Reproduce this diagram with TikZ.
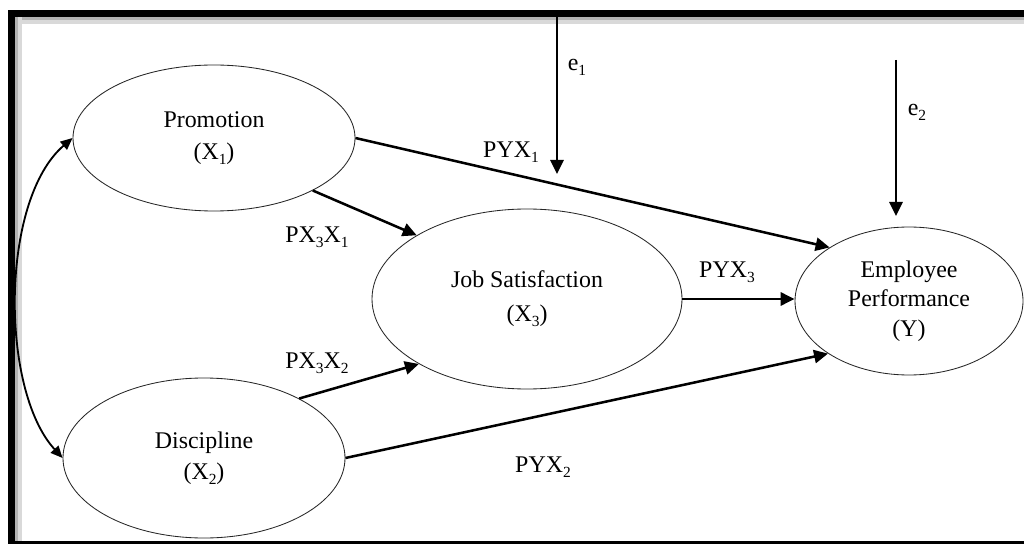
\documentclass[tikz,border=0pt]{standalone}
\usepackage{fontspec}
\setmainfont{Liberation Serif}
\usetikzlibrary{shapes.geometric,arrows.meta}
\newcommand{\lsub}[1]{\raisebox{-0.45ex}{\fontsize{11}{11}\selectfont #1}}
\begin{document}
\begin{tikzpicture}[x=0.25mm,y=-0.25mm,
  latent/.style={ellipse, draw=black!85, line width=0.6pt, fill=white, inner sep=0pt, align=center, font=\fontsize{17}{21}\selectfont},
  conn/.style={line width=1.8pt, -{Triangle[length=3.5mm,width=3.3mm]}},
  dbl/.style={line width=1.3pt, {Triangle[length=3mm,width=2.6mm]}-{Triangle[length=3mm,width=2.6mm]}},
  lab/.style={font=\fontsize{17}{20}\selectfont, inner sep=0pt}]
\useasboundingbox (0,0) rectangle (1024,544);
\clip (0,0) rectangle (1024,544);
% frame and its soft inner shadow
\fill[black!30] (15,17) rectangle (1024,20);
\fill[black!15] (15,20) rectangle (1024,24);
\fill[black!30] (15,17) rectangle (18,541);
\fill[black!15] (18,17) rectangle (22,541);
\draw[line width=1.75mm] (11,13.5) rectangle (1040,544.5);
% latent variables
\node[latent, minimum width=70.5mm, minimum height=36.5mm] (prom) at (214,138) {Promotion\\[2pt](X\lsub{1})};
\node[latent, minimum width=70.5mm, minimum height=40mm] (disc) at (204,458) {Discipline\\[1pt](X\lsub{2})};
\node[latent, minimum width=77.5mm, minimum height=45mm] (job) at (527,299) {Job Satisfaction\\[3pt](X\lsub{3})};
\node[latent, minimum width=57mm, minimum height=37mm] (emp) at (909,301) {Employee\\Performance\\(Y)};
% error terms
\coordinate (e1s) at (557,17);
\coordinate (e1t) at (557,174);
\coordinate (e2s) at (896,60);
\coordinate (e2t) at (896,216);
\draw[conn] (e1s) -- (e1t);
\draw[conn] (e2s) -- (e2t);
% paths
\draw[conn] (prom.east) -- (emp.146);
\draw[conn] (prom.-28) -- (job.150);
\draw[conn] (disc.32) -- (job.211);
\draw[conn] (disc.east) -- (emp.213);
\draw[conn] (job.east) -- (job.east -| emp.west);
\draw[dbl] (prom.west) .. controls (0,200) and (0,390) .. (disc.west);
% labels
\node[lab] (le1) at (577,67) {e\lsub{1}};
\node[lab] (le2) at (917,112) {e\lsub{2}};
\node[lab] (lpyx1) at (511,152) {PYX\lsub{1}};
\node[lab] (lpx3x1) at (317,237) {PX\lsub{3}X\lsub{1}};
\node[lab] (lpx3x2) at (317,363) {PX\lsub{3}X\lsub{2}};
\node[lab] (lpyx3) at (727,272) {PYX\lsub{3}};
\node[lab] (lpyx2) at (543,467) {PYX\lsub{2}};
\end{tikzpicture}
\end{document}
